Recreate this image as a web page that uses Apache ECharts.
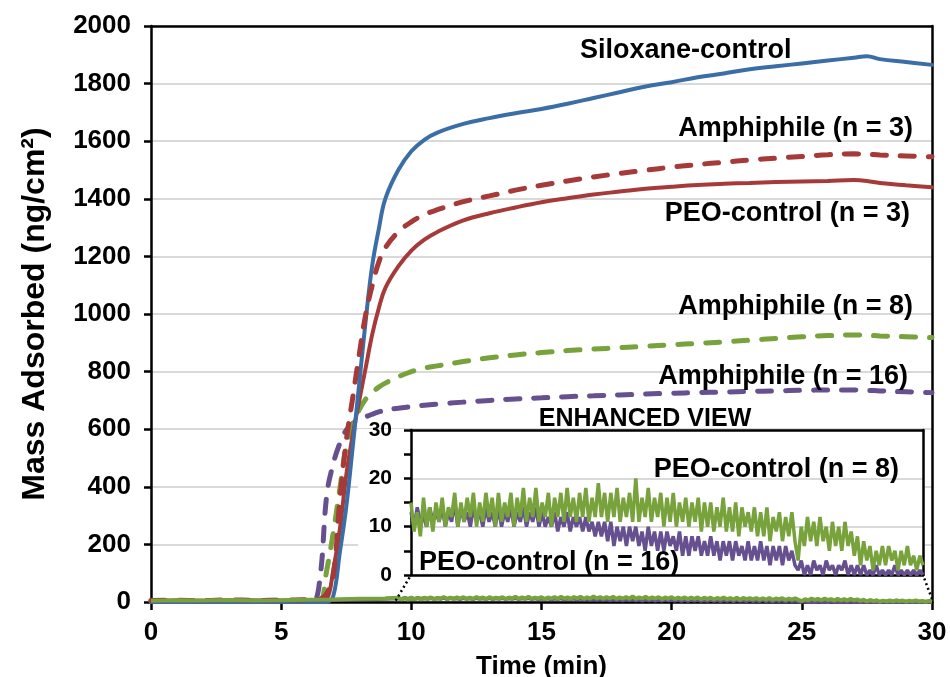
<!DOCTYPE html>
<html>
<head>
<meta charset="utf-8">
<script src="https://cdn.jsdelivr.net/npm/echarts@6/dist/echarts.min.js"></script>
<style>
  html, body { margin: 0; padding: 0; background: #fff; }
  #chart { width: 950px; height: 677px; }
</style>
</head>
<body>
<div id="chart"></div>
<script>
// main curves: time (min) and mass adsorbed (ng/cm2)
const timeMain = [0, 1, 2, 3, 4, 5, 6, 6.25, 6.5, 6.75, 7, 7.25, 7.5, 7.75, 8, 8.25, 8.5, 8.75, 9,
  9.5, 10, 10.5, 11, 12, 13, 14, 15, 16, 17, 18, 19, 20, 21, 22, 23, 24, 25, 26, 27, 27.5, 28, 29, 30];
const siloxane = [0, 0, 0, 0, 0, 0, 0, 0, 0, 0, 20, 170, 330, 540, 760, 980, 1170, 1295, 1400,
  1500, 1565, 1605, 1630, 1660, 1680, 1697, 1712, 1730, 1750, 1770, 1790, 1805, 1822, 1835, 1850, 1860, 1870, 1880, 1890, 1895, 1885, 1875, 1865];
const peo3 = [3, 5, 4, 6, 5, 4, 5, 4, 5, 10, 110, 250, 440, 580, 700, 815, 930, 1020, 1090,
  1165, 1220, 1258, 1285, 1325, 1350, 1370, 1388, 1402, 1415, 1425, 1435, 1442, 1448, 1452, 1455, 1458, 1460, 1462, 1465, 1462, 1455, 1447, 1440];
const amph3 = [5, 6, 5, 7, 6, 5, 8, 6, 10, 30, 90, 350, 560, 710, 860, 1000, 1100, 1180, 1230,
  1285, 1320, 1345, 1362, 1390, 1410, 1430, 1447, 1462, 1476, 1488, 1499, 1510, 1519, 1527, 1535, 1541, 1547, 1553, 1556, 1555, 1552, 1549, 1546];
const amph8 = [3, 4, 3, 5, 4, 6, 6, 5, 5, 110, 240, 390, 540, 615, 668, 705, 728, 746, 760,
  782, 800, 812, 820, 835, 848, 858, 866, 873, 878, 883, 888, 893, 898, 903, 909, 915, 921, 925, 927, 926, 924, 921, 918];
const amph16 = [4, 3, 5, 4, 5, 6, 6, 5, 90, 370, 480, 550, 597, 620, 633, 643, 652, 660, 666,
  673, 678, 683, 687, 694, 700, 705, 709, 713, 716, 719, 722, 725, 727, 729, 731, 733, 735, 736, 736, 735, 733, 730, 727];

// PEO-control n = 8 / n = 16: flat start, then the enhanced-view window
const timeEarly = [0, 1, 2, 3, 4, 5, 6, 7, 8, 9];
const peo8Early = [4, 6, 5, 7, 5, 6, 8, 9, 11, 12];
const peo16Early = [3, 4, 3, 5, 4, 4, 6, 7, 9, 11];

const timeInset = [
  9.5, 9.625, 9.75, 9.875, 10, 10.125, 10.25, 10.375,
  10.5, 10.625, 10.75, 10.875, 11, 11.125, 11.25, 11.375,
  11.5, 11.625, 11.75, 11.875, 12, 12.125, 12.25, 12.375,
  12.5, 12.625, 12.75, 12.875, 13, 13.125, 13.25, 13.375,
  13.5, 13.625, 13.75, 13.875, 14, 14.125, 14.25, 14.375,
  14.5, 14.625, 14.75, 14.875, 15, 15.125, 15.25, 15.375,
  15.5, 15.625, 15.75, 15.875, 16, 16.125, 16.25, 16.375,
  16.5, 16.625, 16.75, 16.875, 17, 17.125, 17.25, 17.375,
  17.5, 17.625, 17.75, 17.875, 18, 18.125, 18.25, 18.375,
  18.5, 18.625, 18.75, 18.875, 19, 19.125, 19.25, 19.375,
  19.5, 19.625, 19.75, 19.875, 20, 20.125, 20.25, 20.375,
  20.5, 20.625, 20.75, 20.875, 21, 21.125, 21.25, 21.375,
  21.5, 21.625, 21.75, 21.875, 22, 22.125, 22.25, 22.375,
  22.5, 22.625, 22.75, 22.875, 23, 23.125, 23.25, 23.375,
  23.5, 23.625, 23.75, 23.875, 24, 24.125, 24.25, 24.375,
  24.5, 24.625, 24.75, 24.875, 25, 25.125, 25.25, 25.375,
  25.5, 25.625, 25.75, 25.875, 26, 26.125, 26.25, 26.375,
  26.5, 26.625, 26.75, 26.875, 27, 27.125, 27.25, 27.375,
  27.5, 27.625, 27.75, 27.875, 28, 28.125, 28.25, 28.375,
  28.5, 28.625, 28.75, 28.875, 29, 29.125, 29.25, 29.375,
  29.5, 29.625, 29.75, 29.875, 30];
const peo8Inset = [
  15, 9, 13, 8, 16, 10, 14, 9,
  15, 11, 16, 10, 14, 12, 17, 10,
  15, 11, 16, 12, 17, 10, 15, 11,
  17, 12, 16, 10, 17, 11, 15, 12,
  17, 10, 16, 12, 18, 11, 16, 12,
  18, 11, 15, 12, 17, 10, 16, 12,
  17, 11, 18, 12, 16, 11, 17, 12,
  18, 11, 16, 12, 19, 12, 17, 11,
  17, 12, 18, 11, 16, 12, 17, 11,
  20, 11, 16, 12, 18, 11, 16, 12,
  17, 10, 16, 11, 17, 10, 15, 11,
  16, 10, 15, 11, 16, 9, 15, 10,
  15, 9, 14, 10, 16, 9, 14, 9,
  15, 8, 14, 10, 13, 9, 14, 8,
  13, 8, 14, 7, 12, 9, 13, 7,
  12, 8, 13, 7, 3, 10, 6, 12,
  7, 11, 6, 12, 7, 10, 5, 11,
  6, 10, 5, 11, 6, 9, 4, 8,
  2, 7, 3, 6, 1, 5, 2, 6,
  2, 6, 3, 5, 1, 5, 2, 6,
  2, 4, 1, 4, 2];
const peo16Inset = [
  13, 10, 14, 11, 12, 10, 14, 11,
  13, 11, 14, 10, 13, 11, 15, 10,
  14, 11, 13, 10, 14, 11, 13, 10,
  14, 11, 13, 10, 14, 10, 13, 11,
  14, 10, 13, 11, 14, 10, 13, 11,
  14, 10, 13, 10, 12, 10, 13, 9,
  12, 10, 13, 9, 12, 10, 12, 9,
  12, 9, 11, 8, 11, 8, 11, 7,
  11, 6, 10, 7, 10, 6, 10, 7,
  10, 6, 9, 5, 10, 6, 9, 5,
  9, 5, 9, 6, 8, 5, 9, 4,
  8, 4, 8, 5, 8, 4, 7, 4,
  8, 4, 7, 3, 7, 4, 7, 3,
  7, 4, 6, 3, 7, 3, 6, 3,
  7, 3, 6, 2, 6, 3, 6, 2,
  6, 3, 5, 2, 1, 3, 0, 2,
  0, 3, 1, 2, 0, 3, 1, 2,
  0, 2, 1, 3, 0, 2, 0, 2,
  0, 2, 0, 1, 0, 2, 0, 1,
  0, 1, 0, 2, 0, 1, 0, 1,
  0, 1, 0, 1, 0];

const yTicksMain = [0, 2000, 200];
const yTicksInset = [0, 30, 10];

const FONT = '"Liberation Sans", Arial, sans-serif';
const BLUE = '#3b6ea6', RED = '#a63a38', GREEN = '#77a23c', PURPLE = '#66508f';

function pairs(xs, ys) {
  return xs.map((x, i) => [x, ys[i]]);
}

const chart = echarts.init(document.getElementById('chart'));

const black = { color: '#000', width: 2.5 };
const tickFont = { color: '#000', fontSize: 26, fontWeight: 'bold', fontFamily: FONT };
const plain = v => String(v);

function boxAxis(grid, pos, min, max) {
  return {
    gridIndex: grid, type: 'value', position: pos, min: min, max: max,
    axisLine: { show: true, onZero: false, lineStyle: black },
    axisTick: { show: false }, axisLabel: { show: false }, splitLine: { show: false },
    z: grid === 1 ? 3 : 0
  };
}

function mainLine(name, ys, color, dashed) {
  return {
    name: name, type: 'line', xAxisIndex: 0, yAxisIndex: 0,
    data: pairs(timeMain, ys), showSymbol: false, smooth: 0.4,
    lineStyle: { color: color, width: dashed ? 5 : 4, type: dashed ? [14, 14] : 'solid', cap: 'round' },
    z: 2
  };
}

let option = {
  animation: false,
  backgroundColor: '#fff',
  grid: [
    { left: 151, right: 18, top: 26, bottom: 75, outerBoundsMode: 'none' },
    { left: 411, top: 430, width: 512, height: 145, outerBoundsMode: 'none' }
  ],
  xAxis: [
    {
      gridIndex: 0, type: 'value', min: 0, max: 30, interval: 5,
      axisLine: { show: true, onZero: false, lineStyle: black },
      axisTick: { show: true, length: 8, lineStyle: black },
      axisLabel: Object.assign({ margin: 18, formatter: plain }, tickFont),
      splitLine: { show: false },
      name: 'Time (min)', nameLocation: 'middle', nameGap: 52,
      nameTextStyle: tickFont
    },
    boxAxis(0, 'top', 0, 30),
    boxAxis(1, 'bottom', 9.5, 30),
    boxAxis(1, 'top', 9.5, 30)
  ],
  yAxis: [
    {
      gridIndex: 0, type: 'value', min: yTicksMain[0], max: yTicksMain[1], interval: yTicksMain[2],
      axisLine: { show: true, onZero: false, lineStyle: black },
      axisTick: { show: true, length: 7, lineStyle: black },
      axisLabel: Object.assign({ margin: 20, formatter: plain }, tickFont),
      splitLine: { show: true, lineStyle: { color: '#d9d9d9', width: 2 } },
      name: 'Mass Adsorbed (ng/cm²)', nameLocation: 'middle', nameGap: 100,
      nameTextStyle: { color: '#000', fontSize: 32, fontWeight: 'bold', fontFamily: FONT }
    },
    boxAxis(0, 'right', 0, 2000),
    {
      gridIndex: 1, type: 'value', min: yTicksInset[0], max: yTicksInset[1], interval: yTicksInset[2],
      axisLine: { show: true, onZero: false, lineStyle: black },
      axisTick: { show: true, length: 7, lineStyle: black },
      minorTick: { show: true, splitNumber: 2, length: 7, lineStyle: black },
      axisLabel: { color: '#000', fontSize: 21, fontWeight: 'bold', fontFamily: FONT, margin: 19 },
      splitLine: { show: true, lineStyle: { color: '#d9d9d9', width: 2 } },
      z: 3
    },
    boxAxis(1, 'right', 0, 30)
  ],
  series: [
    mainLine('Amphiphile (n = 16)', amph16, PURPLE, true),
    mainLine('Amphiphile (n = 8)', amph8, GREEN, true),
    mainLine('PEO-control (n = 3)', peo3, RED, false),
    mainLine('Siloxane-control', siloxane, BLUE, false),
    mainLine('Amphiphile (n = 3)', amph3, RED, true),
    {
      name: 'PEO-control (n = 16)', type: 'line', xAxisIndex: 0, yAxisIndex: 0,
      data: pairs(timeEarly, peo16Early).concat(pairs(timeInset, peo16Inset)),
      showSymbol: false, lineStyle: { color: PURPLE, width: 4 }, z: 2
    },
    {
      name: 'PEO-control (n = 8)', type: 'line', xAxisIndex: 0, yAxisIndex: 0,
      data: pairs(timeEarly, peo8Early).concat(pairs(timeInset, peo8Inset)),
      showSymbol: false, lineStyle: { color: GREEN, width: 4 }, z: 2
    },
    {
      name: 'PEO-control (n = 16) inset', type: 'line', xAxisIndex: 2, yAxisIndex: 2,
      data: pairs(timeInset, peo16Inset), showSymbol: false,
      lineStyle: { color: PURPLE, width: 3.5 }, z: 4
    },
    {
      name: 'PEO-control (n = 8) inset', type: 'line', xAxisIndex: 2, yAxisIndex: 2,
      data: pairs(timeInset, peo8Inset), showSymbol: false,
      lineStyle: { color: GREEN, width: 3.5 }, z: 4
    }
  ]
};
chart.setOption(option);

// white panel behind the enhanced view, leader lines and text labels
function txt(text, x, y, align, size) {
  return {
    type: 'text', x: x, y: y, z: 6,
    style: { text: text, textAlign: align, textVerticalAlign: 'middle', fill: '#000',
      font: 'bold ' + size + 'px ' + FONT }
  };
}
const a = chart.convertToPixel({ xAxisIndex: 0, yAxisIndex: 0 }, [9.4, 5]);
const b = chart.convertToPixel({ xAxisIndex: 2, yAxisIndex: 2 }, [9.5, 0]);
const c = chart.convertToPixel({ xAxisIndex: 0, yAxisIndex: 0 }, [30, 10]);
const d = chart.convertToPixel({ xAxisIndex: 2, yAxisIndex: 2 }, [30, 0]);
const dotted = { stroke: '#000', lineWidth: 2.5, lineDash: [2, 3] };

chart.setOption({
  graphic: [
    { type: 'rect', shape: { x: 358, y: 429, width: 567, height: 148 }, style: { fill: '#fff' }, z: 1 },
    { type: 'line', shape: { x1: a[0], y1: a[1], x2: b[0], y2: b[1] }, style: dotted, z: 5 },
    { type: 'line', shape: { x1: c[0], y1: c[1], x2: d[0], y2: d[1] }, style: dotted, z: 5 },
    txt('Siloxane-control', 580, 51, 'left', 27),
    txt('Amphiphile (n = 3)', 913, 129, 'right', 27),
    txt('PEO-control (n = 3)', 910, 214, 'right', 27),
    txt('Amphiphile (n = 8)', 913, 307, 'right', 27),
    txt('Amphiphile (n = 16)', 908, 377, 'right', 27),
    txt('ENHANCED VIEW', 645, 419, 'center', 25),
    txt('PEO-control (n = 8)', 899, 470, 'right', 27),
    txt('PEO-control (n = 16)', 419, 563, 'left', 27)
  ]
});
</script>
</body>
</html>
